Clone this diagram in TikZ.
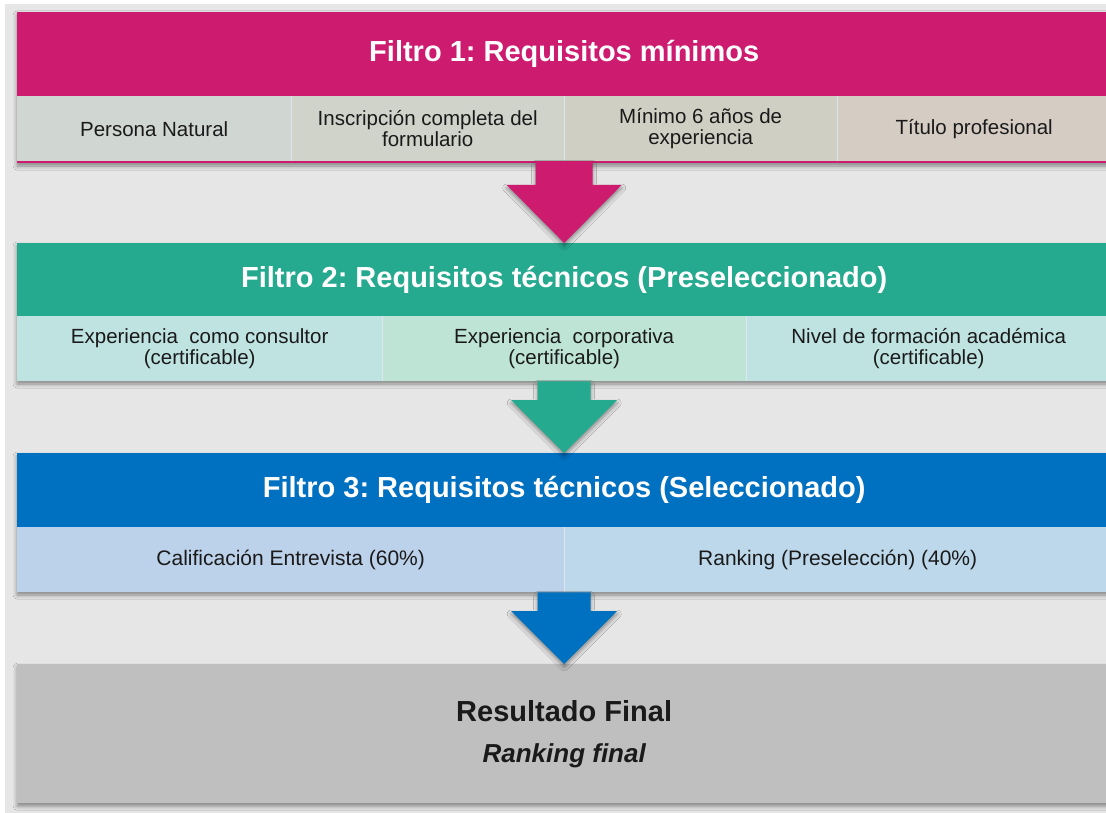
\documentclass[tikz,border=0pt]{standalone}
\usepackage{fontspec}
\setmainfont{Liberation Sans}
\usetikzlibrary{calc,shadows.blur}
\frenchspacing
\definecolor{bgc}{HTML}{E6E6E6}
\definecolor{pinkc}{HTML}{CD1B6F}
\definecolor{tealc}{HTML}{25A98F}
\definecolor{bluec}{HTML}{0070C0}
\definecolor{finc}{HTML}{BFBFBF}
\definecolor{ca}{HTML}{D0D6D2}
\definecolor{cb}{HTML}{CFD3CA}
\definecolor{cc}{HTML}{CFCFC3}
\definecolor{cd}{HTML}{D5CDC4}
\definecolor{da}{HTML}{BFE3E1}
\definecolor{db}{HTML}{BEE4D6}
\definecolor{ea}{HTML}{BCD1EA}
\definecolor{eb}{HTML}{BCD8EA}
\definecolor{divc}{HTML}{DCE6EE}
\definecolor{txt}{HTML}{1A1A1A}
\tikzset{
  shad/.style={blur shadow={shadow xshift=0pt, shadow yshift=-3pt, shadow blur radius=4pt, shadow opacity=42}},
  hdr/.style={anchor=north west, inner sep=0pt, minimum width=1094pt, text=white,
    font=\fontsize{29}{33}\selectfont\bfseries},
  cell/.style={anchor=north west, inner sep=0pt, minimum height=65pt, text=txt, align=center,
    font=\fontsize{20.5}{20.5}\selectfont},
  divider/.style={divc, line width=1pt},
}
\newcommand\flecha[6]{% start, tip, half shaft, half head, head length, colour
  \fill[#6, shad] ($(#1)+(-#3,0)$) -- ($(#1)+(#3,0)$) -- ($(#2)+(#3,-#5)$) -- ($(#2)+(#4,-#5)$)
    -- (#2) -- ($(#2)+(-#4,-#5)$) -- ($(#2)+(-#3,-#5)$) -- cycle;}
\begin{document}
\begin{tikzpicture}[x=1pt,y=-1pt]
\useasboundingbox (0,0) rectangle (1106,813);
\clip (0,0) rectangle (1106,813);
\fill[white] (0,0) rectangle (1106,813);
\fill[bgc] (5,4) rectangle (1106,813);

% Band 1
\fill[pinkc, shad] (17,12) rectangle (1111,163);
\node[hdr, minimum height=84pt] (h1) at (17,12) {Filtro 1: Requisitos mínimos};
\node[cell, fill=ca, minimum width=274pt] (c11) at (17,96) {Persona Natural};
\node[cell, fill=cb, minimum width=273pt] (c12) at (291,96) {Inscripción completa del\\formulario};
\node[cell, fill=cc, minimum width=273pt] (c13) at (564,96) {Mínimo 6 años de\\experiencia};
\node[cell, fill=cd, minimum width=274pt] (c14) at (837,96) {Título profesional};
\draw[divider] (c11.north east) -- (c11.south east);
\draw[divider] (c12.north east) -- (c12.south east);
\draw[divider] (c13.north east) -- (c13.south east);

% Band 2
\fill[tealc, shad] (17,243) rectangle (1111,381);
\node[hdr, minimum height=73pt] (h2) at (17,243) {Filtro 2: Requisitos técnicos (Preseleccionado)};
\node[cell, fill=da, minimum width=365pt] (c21) at (17,316) {Experiencia\ \ como consultor\\(certificable)};
\node[cell, fill=db, minimum width=364pt] (c22) at (382,316) {Experiencia\ \ corporativa\\(certificable)};
\node[cell, fill=da, minimum width=365pt] (c23) at (746,316) {Nivel de formación académica\\(certificable)};
\draw[divider] (c21.north east) -- (c21.south east);
\draw[divider] (c22.north east) -- (c22.south east);

% Band 3
\fill[bluec, shad] (17,453) rectangle (1111,592);
\node[hdr, minimum height=74pt] (h3) at (17,453) {Filtro 3: Requisitos técnicos (Seleccionado)};
\node[cell, fill=ea, minimum width=547pt, font=\fontsize{21}{21}\selectfont] (c31) at (17,527) {Calificación Entrevista (60\%)};
\node[cell, fill=eb, minimum width=547pt, font=\fontsize{21}{21}\selectfont] (c32) at (564,527) {Ranking (Preselección) (40\%)};
\draw[divider] (c31.north east) -- (c31.south east);

% Final
\node[shad, fill=finc, anchor=north west, inner sep=0pt, minimum width=1094pt, minimum height=139pt,
  text=txt, align=center, font=\fontsize{29}{41}\selectfont\bfseries] (fin) at (17,664)
  {Resultado Final\\{\fontsize{26}{41}\selectfont\itshape Ranking final}};

% Arrows
\coordinate (a1s) at (h2.north |- c11.south);
\coordinate (a2s) at (h3.north |- c21.south);
\coordinate (a3s) at (fin.north |- c31.south);
\flecha{a1s}{h2.north}{28.5}{57.5}{58}{pinkc}
\flecha{a2s}{h3.north}{26.5}{53}{53}{tealc}
\flecha{a3s}{fin.north}{26.5}{53}{53}{bluec}
\end{tikzpicture}
\end{document}
